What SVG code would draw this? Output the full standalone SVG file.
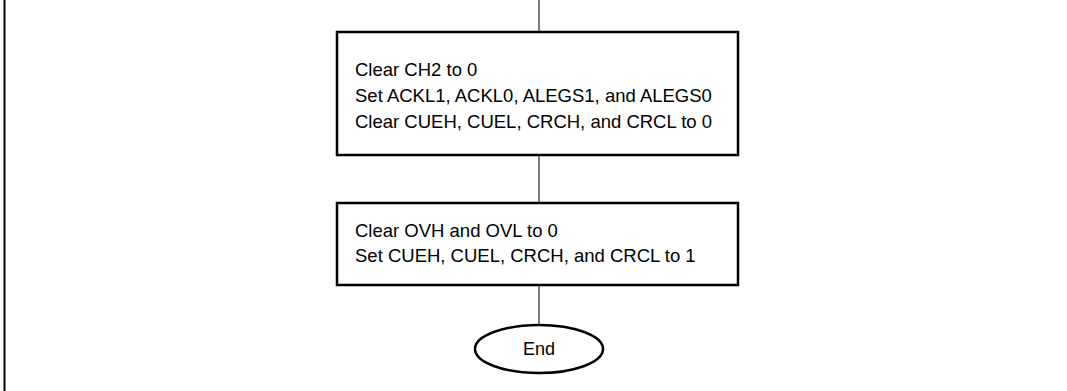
<svg xmlns="http://www.w3.org/2000/svg" width="1067" height="391" viewBox="0 0 1067 391">
<style>
.box{fill:#fff;stroke:#000;stroke-width:2.5}
.ln{stroke:#000;stroke-width:1;fill:none}
.t{font-family:"Liberation Sans",Arial,sans-serif;font-size:18.5px;fill:#000}
.te{font-family:"Liberation Sans",Arial,sans-serif;font-size:18px;fill:#000}
</style>
<rect width="1067" height="391" fill="#fff"/>
<line x1="4.5" y1="0" x2="4.5" y2="391" stroke="#000" stroke-width="2"/>
<g id="connectors">
<line class="ln" x1="539" y1="0" x2="539" y2="32"/>
<line class="ln" x1="539" y1="155" x2="539" y2="203"/>
<line class="ln" x1="539" y1="285" x2="539" y2="325"/>
</g>
<g id="box1">
<rect class="box" x="337" y="32" width="401" height="123"/>
<text class="t" x="355" y="76">Clear CH2 to 0</text>
<text class="t" x="355" y="102">Set ACKL1, ACKL0, ALEGS1, and ALEGS0</text>
<text class="t" x="355" y="128">Clear CUEH, CUEL, CRCH, and CRCL to 0</text>
</g>
<g id="box2">
<rect class="box" x="337" y="203" width="401" height="82"/>
<text class="t" x="355" y="237">Clear OVH and OVL to 0</text>
<text class="t" x="355" y="262">Set CUEH, CUEL, CRCH, and CRCL to 1</text>
</g>
<g id="end">
<ellipse class="box" cx="539" cy="349" rx="64" ry="24"/>
<text class="te" x="539" y="355" text-anchor="middle">End</text>
</g>
</svg>
